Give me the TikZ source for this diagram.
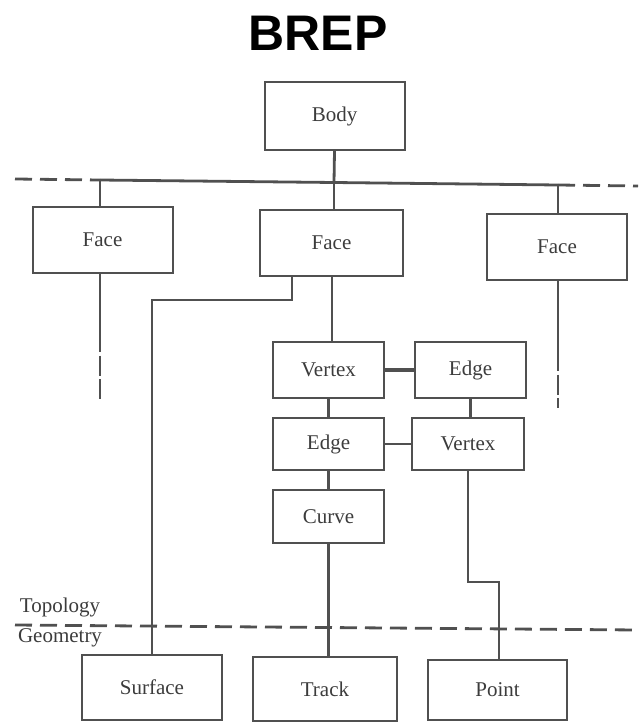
\documentclass[tikz,border=0pt]{standalone}
\usepackage{fontspec}
\setmainfont{Liberation Serif}
\newfontfamily\titlefont{Liberation Sans}
\usepackage{tikz}
\usetikzlibrary{calc}
\definecolor{linegray}{RGB}{80,80,80}
\definecolor{textgray}{RGB}{60,60,60}

\tikzset{
  box/.style={draw=linegray, line width=1pt, rectangle, inner sep=0pt,
    text=textgray, font=\fontsize{10.5}{12}\selectfont},
  bigbox/.style={box, minimum width=70pt, minimum height=33pt},
  smallbox/.style={box, minimum width=55.5pt, minimum height=27pt},
  link/.style={draw=linegray, line width=1.4pt},
  heavylink/.style={draw=linegray, line width=2.4pt},
  dashlink/.style={draw=linegray, line width=1.4pt, dash pattern=on 8.5pt off 4pt},
  brokenlink/.style={draw=linegray, line width=1.4pt, dash pattern=on 10pt off 1.8pt, dash phase=10pt}
}

\begin{document}
\begin{tikzpicture}[x=0.5pt,y=-0.5pt]
  \useasboundingbox (0,0) rectangle (638,722);

  % Title
  \node[font=\titlefont\bfseries\fontsize{25}{28}\selectfont] (title) at (318,33) {BREP};

  % Topology boxes
  \node[bigbox, minimum height=34pt] (body) at (334.5,116) {Body};
  \node[bigbox] (faceL) at (102.5,240) {Face};
  \node[bigbox, minimum width=71.5pt] (faceM) at (331.5,243) {Face};
  \node[bigbox] (faceR) at (557,247) {Face};

  \node[smallbox, minimum height=28pt] (vertexA) at (328.5,370) {Vertex};
  \node[smallbox, minimum height=28pt] (edgeA) at (470.5,370) {Edge};
  \node[smallbox, minimum height=26pt] (edgeB) at (328.5,444) {Edge};
  \node[smallbox, minimum width=56pt, minimum height=26pt] (vertexB) at (468,444) {Vertex};
  \node[smallbox, minimum height=26.5pt] (curve) at (328.5,516.5) {Curve};

  % Geometry boxes
  \node[bigbox, minimum height=32.5pt] (surface) at (152,687.5) {Surface};
  \node[bigbox, minimum width=72pt, minimum height=32pt] (track) at (325,689) {Track};
  \node[bigbox, minimum width=69.5pt, minimum height=30pt] (point) at (497.5,690) {Point};

  % Body to faces
  \coordinate (jL) at (100,180);
  \coordinate (jM) at (334,182.5);
  \coordinate (jR) at (558,185);
  \draw[link] (body.south) -- (jM);
  \draw[link] (jL) -- (jM) -- (jR);
  \draw[dashlink] (15,179) -- (jL);
  \draw[dashlink] (jR) -- (638,186);
  \draw[link] (jL) -- (jL |- faceL.north);
  \draw[link] (jM) -- (jM |- faceM.north);
  \draw[link] (jR) -- (jR |- faceR.north);

  % Faces continue down
  \coordinate (tL) at (100,352);
  \coordinate (tR) at (558,371);
  \draw[link] (tL |- faceL.south) -- (tL);
  \draw[brokenlink] (tL) -- (100,401);
  \draw[link] (tR |- faceR.south) -- (tR);
  \draw[brokenlink] (tR) -- (558,408);

  % Face to surface
  \coordinate (s1) at (292,300);
  \draw[link] (s1 |- faceM.south) -- (s1) -| (surface.north);

  % Face to vertex
  \coordinate (v1) at (332,300);
  \draw[link] (v1 |- faceM.south) -- (v1 |- vertexA.north);

  % Vertex / edge loop
  \draw[heavylink] (vertexA.east) -- (edgeA.west);
  \draw[link] (edgeA.south) -- (edgeA.south |- vertexB.north);
  \draw[link] (vertexA.south) -- (edgeB.north);
  \draw[link] (edgeB.east) -- (vertexB.west);
  \draw[link] (edgeB.south) -- (curve.north);

  % Down to geometry
  \draw[link] (curve.south) -- (curve.south |- track.north);
  \coordinate (p1) at (468,582);
  \coordinate (p2) at (499,582);
  \draw[link] (vertexB.south) -- (p1) -- (p2) -- (p2 |- point.north);

  % Topology / geometry divide
  \draw[dashlink] (15,625) -- (638,630);
  \node[text=textgray, font=\fontsize{10.5}{12}\selectfont] (topo) at (60,607) {Topology};
  \node[text=textgray, font=\fontsize{10.5}{12}\selectfont] (geo) at (60,638) {Geometry};
\end{tikzpicture}
\end{document}
